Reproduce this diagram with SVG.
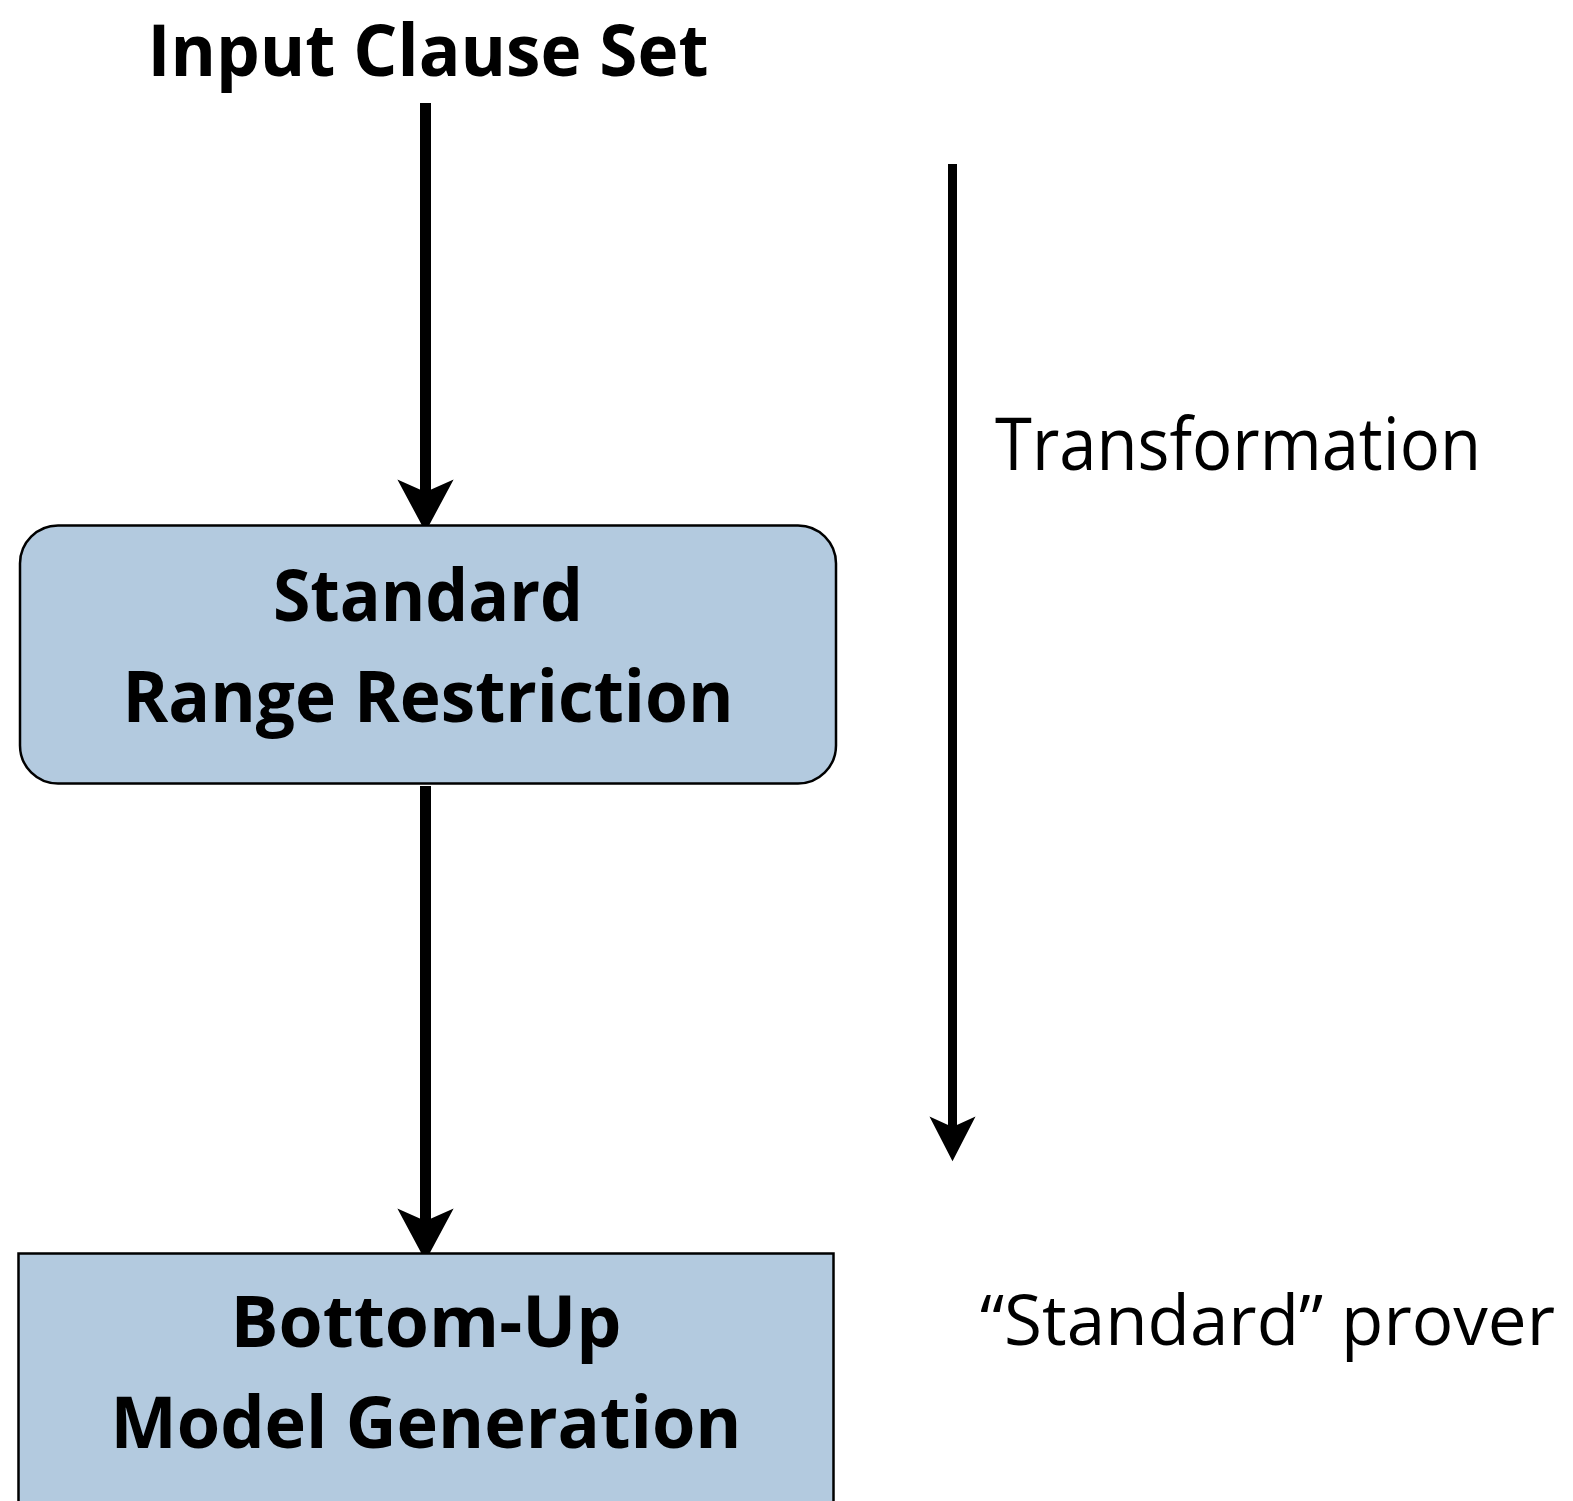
<svg xmlns="http://www.w3.org/2000/svg" width="1573" height="1501" viewBox="0 0 1573 1501">
  <style>
    .box { fill: #b3cadf; stroke: #000; stroke-width: 2.5; }
    .bold { font-family: "Open Sans", "Noto Sans", "Liberation Sans", sans-serif; font-weight: 700; fill: #000; text-anchor: middle; }
    .plain { font-family: "Open Sans", "Noto Sans", "Liberation Sans", sans-serif; font-weight: 400; fill: #000; }
    .flow { stroke: #000; stroke-width: 11; fill: none; }
    .side { stroke: #000; stroke-width: 9; fill: none; }
  </style>
  <defs>
    <marker id="headBig" markerUnits="userSpaceOnUse" orient="auto" refX="0" refY="0" markerWidth="60" markerHeight="60" viewBox="-12 -24 46 48" overflow="visible">
      <path d="M32,0 L-10,-22.5 L0,0 L-10,22.5 Z" fill="#000"/>
    </marker>
    <marker id="headSmall" markerUnits="userSpaceOnUse" orient="auto" refX="0" refY="0" markerWidth="50" markerHeight="50" viewBox="-10 -19 38 38" overflow="visible">
      <path d="M26,0 L-8,-17.5 L0,0 L-8,17.5 Z" fill="#000"/>
    </marker>
  </defs>

  <!-- connectors -->
  <g id="connectors">
    <line class="flow" x1="425.5" y1="103" x2="425.5" y2="492" marker-end="url(#headBig)"/>
    <line class="flow" x1="425.5" y1="786" x2="425.5" y2="1221" marker-end="url(#headBig)"/>
    <line class="side" x1="952.5" y1="164" x2="952.5" y2="1127" marker-end="url(#headSmall)"/>
  </g>

  <!-- input label -->
  <g id="input">
    <text class="bold" x="428" y="76" font-size="72" textLength="561" lengthAdjust="spacingAndGlyphs">Input Clause Set</text>
  </g>

  <!-- range restriction step -->
  <g id="range-restriction">
    <rect class="box" x="20" y="525.5" width="816" height="258" rx="38" ry="38"/>
    <text class="bold" x="428" y="621" font-size="72" textLength="310" lengthAdjust="spacingAndGlyphs">Standard</text>
    <text class="bold" x="428" y="722" font-size="72" textLength="611" lengthAdjust="spacingAndGlyphs">Range Restriction</text>
  </g>

  <!-- model generation step -->
  <g id="model-generation">
    <rect class="box" x="18.5" y="1253.5" width="815" height="260"/>
    <text class="bold" x="426" y="1347" font-size="72" textLength="391" lengthAdjust="spacingAndGlyphs">Bottom-Up</text>
    <text class="bold" x="426" y="1448" font-size="72" textLength="631" lengthAdjust="spacingAndGlyphs">Model Generation</text>
  </g>

  <!-- side annotations -->
  <g id="transformation">
    <text class="plain" x="995" y="470" font-size="74" textLength="486" lengthAdjust="spacingAndGlyphs">Transformation</text>
  </g>
  <g id="standard-prover">
    <text class="plain" x="980" y="1345" font-size="70" textLength="575" lengthAdjust="spacingAndGlyphs">“Standard” prover</text>
  </g>
</svg>
